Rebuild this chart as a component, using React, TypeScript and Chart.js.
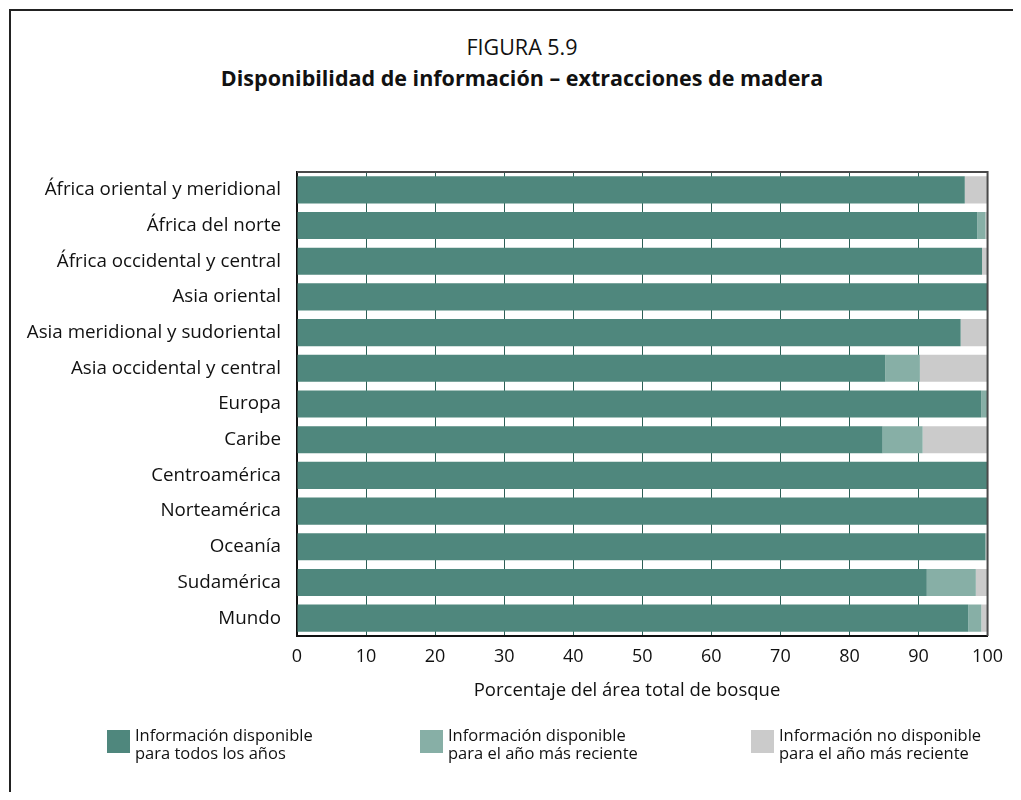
import React, { useEffect, useRef } from "react";
import { Chart, registerables } from "chart.js";

Chart.register(...registerables);

const categories = [
  "África oriental y meridional",
  "África del norte",
  "África occidental y central",
  "Asia oriental",
  "Asia meridional y sudoriental",
  "Asia occidental y central",
  "Europa",
  "Caribe",
  "Centroamérica",
  "Norteamérica",
  "Oceanía",
  "Sudamérica",
  "Mundo",
];

const allYears = [96.7, 98.5, 99.2, 100, 96.1, 85.2, 99.1, 84.8, 100, 100, 99.7, 91.2, 97.2];
const recentYear = [0, 1.2, 0, 0, 0, 5.0, 0.9, 5.8, 0, 0, 0, 7.1, 1.9];
const notAvailable = [3.3, 0.3, 0.8, 0, 3.9, 9.8, 0, 9.4, 0, 0, 0.3, 1.7, 0.9];

const seriesLabels = [
  ["Información disponible", "para todos los años"],
  ["Información disponible", "para el año más reciente"],
  ["Información no disponible", "para el año más reciente"],
];
const seriesColors = ["#4f877d", "#87afa6", "#cbcbcb"];

const xTicks = [0, 10, 20, 30, 40, 50, 60, 70, 80, 90, 100];
const xTitle = "Porcentaje del área total de bosque";
const figLabel = "FIGURA 5.9";
const figTitle = "Disponibilidad de información – extracciones de madera";

const FONT = "'Open Sans', 'Noto Sans', sans-serif";

const framePlugin = {
  id: "frameBox",
  afterDatasetsDraw(chart: any) {
    const { ctx, chartArea } = chart;
    const { left, right, top, bottom } = chartArea;
    ctx.save();
    ctx.strokeStyle = "#4a4a4a";
    ctx.lineWidth = 2;
    ctx.beginPath();
    ctx.moveTo(left, top);
    ctx.lineTo(right, top);
    ctx.lineTo(right, bottom);
    ctx.stroke();
    ctx.restore();
  },
};

export default function App() {
  const ref = useRef<HTMLCanvasElement>(null);

  useEffect(() => {
    if (!ref.current) return;
    const data = [allYears, recentYear, notAvailable];
    const chart = new Chart(ref.current, {
      type: "bar",
      data: {
        labels: categories,
        datasets: data.map((d, i) => ({
          label: seriesLabels[i].join(" "),
          data: d,
          backgroundColor: seriesColors[i],
          borderWidth: 0,
          categoryPercentage: 1,
          barPercentage: 0.76,
        })),
      },
      options: {
        indexAxis: "y",
        animation: false,
        responsive: false,
        maintainAspectRatio: false,
        layout: { padding: { top: 164, right: 24, left: 0, bottom: 22 } },
        plugins: {
          legend: { display: false },
          title: { display: false },
          tooltip: { enabled: false },
        },
        scales: {
          x: {
            stacked: true,
            min: 0,
            max: 100,
            afterFit: (s: any) => {
              s.height = 70;
            },
            afterBuildTicks: (s: any) => {
              s.ticks = xTicks.map((v) => ({ value: v }));
            },
            grid: {
              color: "#2d5f56",
              lineWidth: 1,
              drawTicks: false,
            },
            border: { display: true, color: "#111", width: 2 },
            ticks: {
              padding: 10,
              color: "#111",
              font: { family: FONT, size: 18 },
            },
            title: { display: false },
          },
          y: {
            stacked: true,
            afterFit: (s: any) => {
              s.width = 289;
            },
            grid: { display: false, drawTicks: false },
            border: { display: true, color: "#111", width: 2 },
            ticks: {
              padding: 16,
              color: "#111",
              font: { family: FONT, size: 18.8 },
            },
          },
        },
      },
      plugins: [framePlugin],
    });
    return () => chart.destroy();
  }, []);

  const legendX = [99, 412, 743];

  return (
    <div
      style={{
        position: "relative",
        width: 1005,
        height: 784,
        fontFamily: FONT,
        color: "#111",
        overflow: "hidden",
      }}
    >
      <div style={{ position: "absolute", left: 1, top: 1, right: 0, height: 2, background: "#222" }} />
      <div style={{ position: "absolute", left: 1, top: 1, bottom: 0, width: 2, background: "#222" }} />
      <div
        style={{
          position: "absolute",
          left: 114,
          width: 800,
          top: 25,
          textAlign: "center",
          fontSize: 21.5,
          lineHeight: "28px",
        }}
      >
        {figLabel}
      </div>
      <div
        style={{
          position: "absolute",
          left: 114,
          width: 800,
          top: 56,
          textAlign: "center",
          fontSize: 21.5,
          fontWeight: 700,
          lineHeight: "28px",
        }}
      >
        {figTitle}
      </div>
      <canvas
        ref={ref}
        width={1005}
        height={720}
        style={{ position: "absolute", left: 0, top: 0, width: 1005, height: 720 }}
      />
      <div
        style={{
          position: "absolute",
          left: 319,
          width: 600,
          top: 668,
          textAlign: "center",
          fontSize: 18.5,
          lineHeight: "26px",
        }}
      >
        {xTitle}
      </div>
      {seriesLabels.map((lines, i) => (
        <div key={i}>
          <div
            style={{
              position: "absolute",
              left: legendX[i],
              top: 722,
              width: 23,
              height: 23,
              background: seriesColors[i],
            }}
          />
          <div
            style={{
              position: "absolute",
              left: legendX[i] + 28,
              top: 718,
              fontSize: 16.5,
              lineHeight: "18px",
              whiteSpace: "nowrap",
            }}
          >
            {lines[0]}
            <br />
            {lines[1]}
          </div>
        </div>
      ))}
    </div>
  );
}
